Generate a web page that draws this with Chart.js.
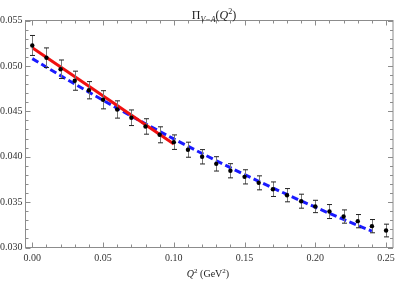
<!DOCTYPE html>
<html>
<head>
<meta charset="utf-8">
<script src="https://cdn.jsdelivr.net/npm/chart.js@4"></script>
<style>
  body { margin: 0; background: #fff; }
</style>
</head>
<body>
<canvas id="chartPi" width="397" height="284"></canvas>
<script>
// datos
const q2 = [0.00, 0.01, 0.02, 0.03, 0.04, 0.05, 0.06, 0.07, 0.08, 0.09, 0.10, 0.11, 0.12,
            0.13, 0.14, 0.15, 0.16, 0.17, 0.18, 0.19, 0.20, 0.21, 0.22, 0.23, 0.24, 0.25];
const piVA = [0.05225, 0.0509, 0.04963, 0.04837, 0.04732, 0.04627, 0.0452, 0.04429, 0.04333,
              0.04241, 0.0416, 0.04077, 0.03999, 0.03921, 0.03845, 0.03778, 0.03712, 0.03642,
              0.03576, 0.0351, 0.03452, 0.03396, 0.03341, 0.0329, 0.03235, 0.03187];
const piErr = [0.0011, 0.00108, 0.00102, 0.00105, 0.00095, 0.001, 0.00095, 0.00086, 0.00085,
               0.00088, 0.0008, 0.00083, 0.00079, 0.00079, 0.00078, 0.00078, 0.00077, 0.0008,
               0.00073, 0.00077, 0.00068, 0.00077, 0.00073, 0.00073, 0.00073, 0.0007];

const redX = [0.00, 0.10];
const redY = [0.0520, 0.0414];

const blueX = [0.00, 0.02, 0.04, 0.06, 0.08, 0.10, 0.12, 0.14, 0.16, 0.18, 0.20, 0.22, 0.24];
const blueY = [0.0508, 0.04893, 0.04711, 0.04534, 0.04362, 0.04196, 0.04035, 0.03879,
               0.03729, 0.03584, 0.03444, 0.03309, 0.0318];

const xTicks = [0.00, 0.05, 0.10, 0.15, 0.20, 0.25];
const yTicks = [0.030, 0.035, 0.040, 0.045, 0.050, 0.055];

const serif = "'Liberation Serif', 'DejaVu Serif', serif";

function pairs(xs, ys) {
    return xs.map((x, i) => ({ x: x, y: ys[i] }));
}

// marco con ticks hacia adentro, titulo y etiqueta del eje
const framePlugin = {
    id: 'frame',
    beforeDatasetsDraw(chart) {
        const ctx = chart.ctx;
        const a = chart.chartArea;
        const sx = chart.scales.x, sy = chart.scales.y;
        ctx.save();
        ctx.strokeStyle = '#8c8c8c';
        ctx.lineWidth = 1;
        ctx.strokeRect(a.left, a.top, a.right - a.left, a.bottom - a.top);
        ctx.beginPath();
        for (let i = 0; i <= 25; i++) {
            let px = Math.round(sx.getPixelForValue(i / 100)) + 0.5;
            let len = i % 5 === 0 ? 5 : 3;
            ctx.moveTo(px, a.bottom); ctx.lineTo(px, a.bottom - len);
            ctx.moveTo(px, a.top); ctx.lineTo(px, a.top + len);
        }
        for (let i = 30; i <= 55; i++) {
            let py = Math.round(sy.getPixelForValue(i / 1000)) + 0.5;
            let len = i % 5 === 0 ? 5 : 3;
            ctx.moveTo(a.left, py); ctx.lineTo(a.left + len, py);
            ctx.moveTo(a.right, py); ctx.lineTo(a.right - len, py);
        }
        ctx.stroke();
        ctx.restore();
    },
    afterDraw(chart) {
        const ctx = chart.ctx;
        ctx.save();
        ctx.fillStyle = '#222';
        ctx.textBaseline = 'alphabetic';
        drawParts(ctx, [
            { t: '\u03A0', f: '12px ' + serif, dy: 0 },
            { t: 'V\u2212A', f: 'italic 8px ' + serif, dy: 3 },
            { t: '(', f: '12px ' + serif, dy: 0 },
            { t: 'Q', f: 'italic 12px ' + serif, dy: 0 },
            { t: '2', f: '8px ' + serif, dy: -5 },
            { t: ')', f: '12px ' + serif, dy: 0 }
        ], 214, 19);
        drawParts(ctx, [
            { t: 'Q', f: 'italic 10px ' + serif, dy: 0 },
            { t: '2', f: '7px ' + serif, dy: -4 },
            { t: ' (GeV', f: '10px ' + serif, dy: 0 },
            { t: '2', f: '7px ' + serif, dy: -4 },
            { t: ')', f: '10px ' + serif, dy: 0 }
        ], 208, 277);
        ctx.restore();
    },
    afterDatasetDraw(chart, args) {
        // barras de error entre las lineas y los puntos
        if (args.index !== 1) return;
        const ctx = chart.ctx;
        const sx = chart.scales.x, sy = chart.scales.y;
        ctx.save();
        ctx.lineWidth = 1;
        q2.forEach((x, i) => {
            let px = Math.round(sx.getPixelForValue(x)) + 0.5;
            let top = sy.getPixelForValue(piVA[i] + piErr[i]);
            let bot = sy.getPixelForValue(piVA[i] - piErr[i]);
            ctx.strokeStyle = '#777';
            ctx.beginPath();
            ctx.moveTo(px, top); ctx.lineTo(px, bot);
            ctx.stroke();
            ctx.strokeStyle = '#222';
            ctx.beginPath();
            ctx.moveTo(px - 2.5, top); ctx.lineTo(px + 2.5, top);
            ctx.moveTo(px - 2.5, bot); ctx.lineTo(px + 2.5, bot);
            ctx.stroke();
        });
        ctx.restore();
    }
};

function drawParts(ctx, parts, cx, baseY) {
    let total = 0;
    parts.forEach(p => { ctx.font = p.f; p.w = ctx.measureText(p.t).width; total += p.w; });
    let x = cx - total / 2;
    parts.forEach(p => {
        ctx.font = p.f;
        ctx.fillText(p.t, x, baseY + p.dy);
        x += p.w;
    });
}

function fixMargins(s) {
    s.paddingLeft = 0;
    s.paddingRight = 0;
    s.paddingTop = 0;
    s.paddingBottom = 0;
}

new Chart(document.getElementById('chartPi'), {
    type: 'scatter',
    data: {
        datasets: [
            {
                label: 'datos',
                data: pairs(q2, piVA),
                pointRadius: 2.2,
                pointBackgroundColor: '#000',
                pointBorderWidth: 0,
                showLine: false,
                order: 0
            },
            {
                label: 'ajuste lineal',
                data: pairs(redX, redY),
                showLine: true,
                borderColor: '#f01010',
                borderWidth: 3,
                pointRadius: 0,
                order: 1
            },
            {
                label: 'modelo',
                data: pairs(blueX, blueY),
                showLine: true,
                borderColor: '#1a1aff',
                borderWidth: 3,
                borderDash: [7, 3.5],
                cubicInterpolationMode: 'monotone',
                pointRadius: 0,
                order: 2
            }
        ]
    },
    options: {
        responsive: false,
        animation: false,
        devicePixelRatio: 1,
        layout: { padding: { left: 0, right: 3, top: 20.5, bottom: 0 } },
        plugins: { legend: { display: false }, tooltip: { enabled: false } },
        scales: {
            x: {
                type: 'linear',
                min: -0.0048,
                max: 0.2549,
                grid: { display: false, drawTicks: false, tickLength: 0 },
                border: { display: false },
                afterBuildTicks: s => { s.ticks = xTicks.map(v => ({ value: v })); },
                afterFit: s => { s.height = 36.5; fixMargins(s); },
                ticks: {
                    autoSkip: false,
                    maxRotation: 0,
                    padding: 5,
                    color: '#333',
                    font: { family: serif, size: 10 },
                    callback: v => v.toFixed(2)
                }
            },
            y: {
                type: 'linear',
                min: 0.030,
                max: 0.055,
                grid: { display: false, drawTicks: false, tickLength: 0 },
                border: { display: false },
                afterBuildTicks: s => { s.ticks = yTicks.map(v => ({ value: v })); },
                afterFit: s => { s.width = 25.5; fixMargins(s); },
                ticks: {
                    autoSkip: false,
                    padding: 3,
                    color: '#333',
                    font: { family: serif, size: 10 },
                    callback: v => v.toFixed(3)
                }
            }
        }
    },
    plugins: [framePlugin]
});
</script>
</body>
</html>
